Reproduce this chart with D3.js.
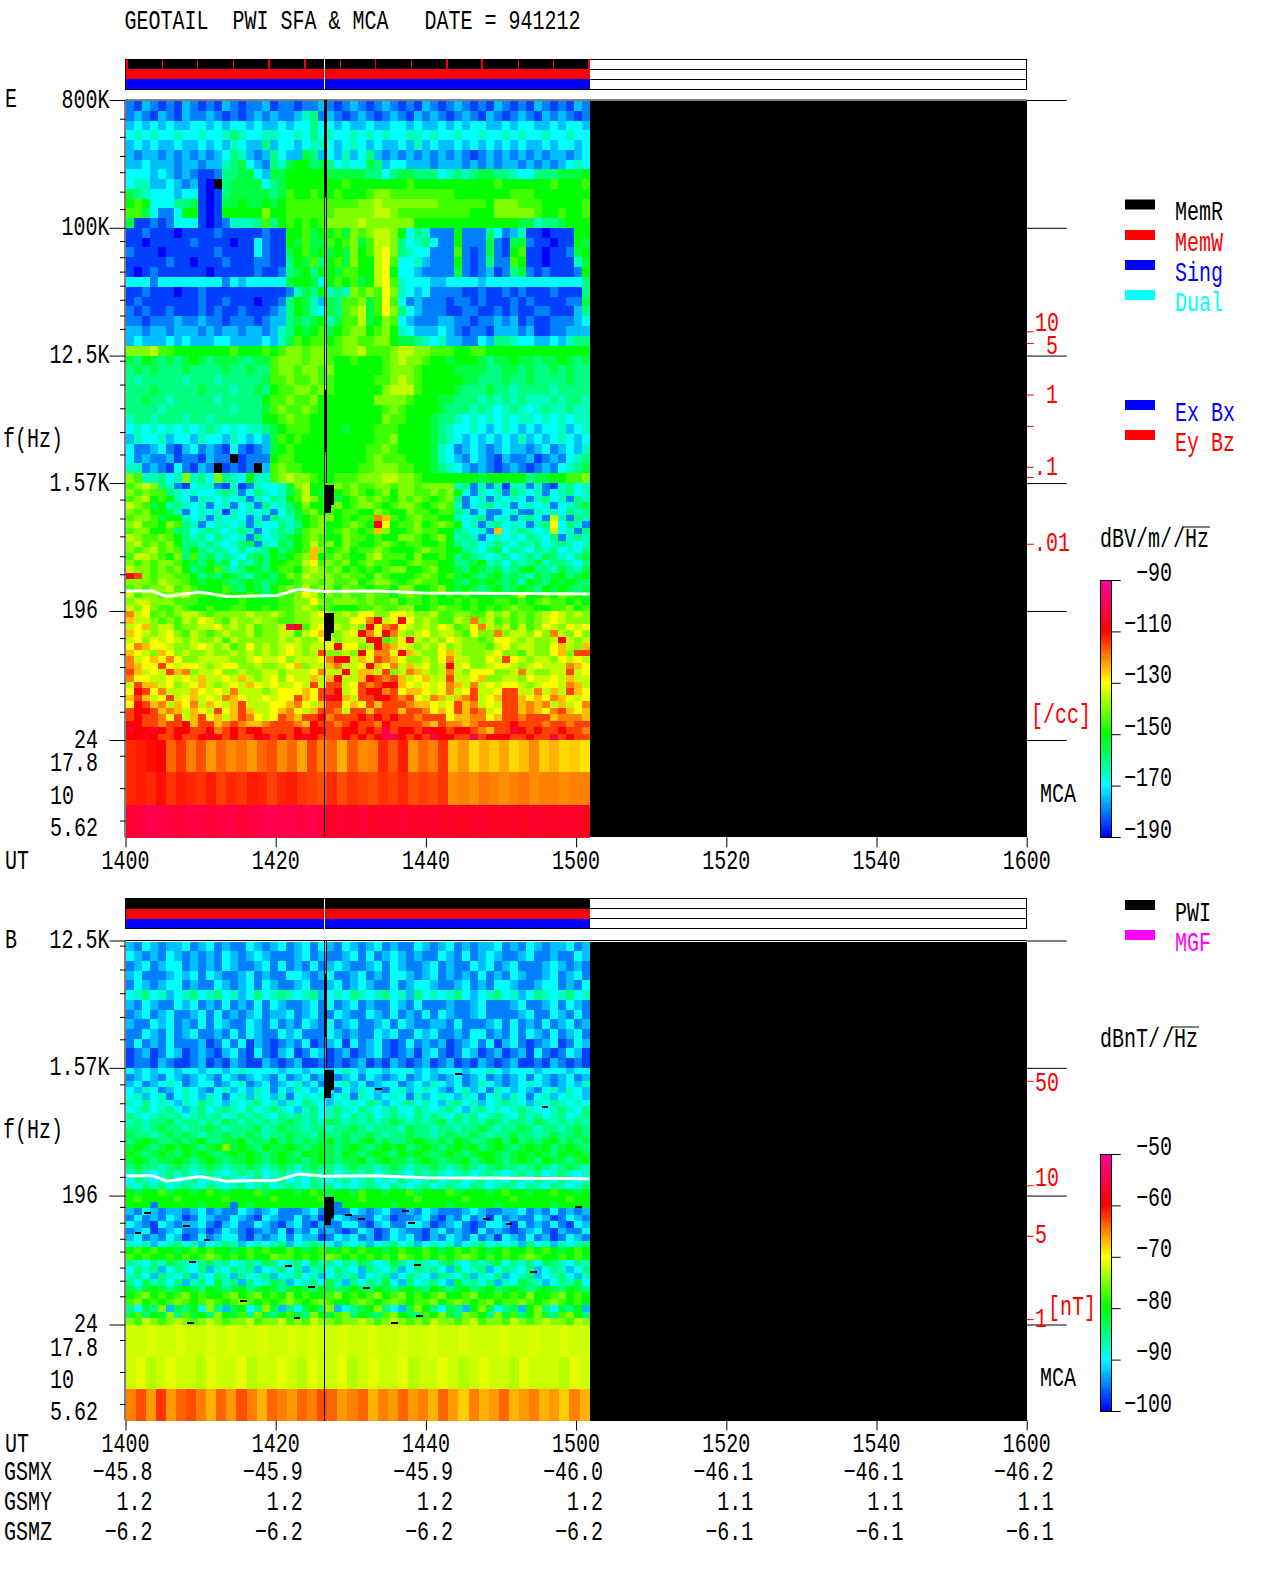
<!DOCTYPE html>
<html>
<head>
<meta charset="utf-8">
<script src="https://cdn.jsdelivr.net/npm/d3@7"></script>
<style>
  body { margin: 0; background: #fff; }
  text { font-family: "Liberation Mono", monospace; font-size: 20px; white-space: pre; }
</style>
</head>
<body>
<script>
// level letters: a..u = bottom..top of the colour bar in equal steps, z = no signal (black)
const levelLetters = "abcdefghijklmnopqrstu";

// electric field spectrogram, top row = 800K, bottom row = 24 Hz, 1400 to 1502 UT
const eRows = [
"cbdcbcbdcb cbdcbccdbc cbccdcbcdc bcdcbcbdcb cdcbcbdcbc bdcbcbdc",
"cdcbdcbdcc dcbcbcdcdc cdfgcdcbcd cbcdcbdcdc bcdcbdcbcd cbdcdcbc",
"dedededdee dedeededde deegeededd eddeededde dedeeddede eddedeed",
"efefeefeef eefgfeeffe efegefeefe fefeeffefe efeefeefef eefeefee",
"dededdedde dedfeddgde edeffedefe deddedfded dedededede ddedeede",
"dcddcdcdcd cdegfdcdge ddhgdedfde gdcdcdcdcd cdcbcdcdcd cdcddcde",
"ddedddcddc ddfghedcgf hiighgefee hgdeedddcd ddcdcdcddc dcdcdefe",
"eeededcdcb bcgghhedhh iiiiihhhhh ggeghhggge fgfghhggfe eggghhhi",
"effddedcdb azghhhhegh iiiiiiijii iiiiijiiii iiiiiijiii iiijiiij",
"hgfeeedeeb abghhhhhgh jiijiijiii jkkjjjjjjj jiiiiiiijj jiiiiiii",
"ijieeegghb abhhihhihi jjjjjjjjjk klkkkkkkkj jjjjjikkkj jjiiiiij",
"jjhecceiib abiiiiikii jjjjjjkkkk kllkjjjjjj jjjiiikkkk kjiijiij",
"hbbcbceeeb abcfffgjgi jijijkkkkl kkkkkkiiii iiiiiiiiih hfgghiii",
"bbcbbbabbb bcbbbbbcbb iijhiijhkj kllkiegfcc cicccgecdf bbabbbii",
"bbabbbbbcb bbbabbecbb ihjhhjijkh jllkgefgec ciccchcbhh cbbabbih",
"cbbbabbbbb bcbbbbecbb hijhihihki jlmkgfeecc cjcbchcbij bbabbchi",
"bbbbbcbbab bbcbbbccbb gihjgijhki ilmjeefdcc cicbcgccji bbabbbfh",
"babcbbbbbb abbbbbcbbc ghigiihjji ilmieedccc chcbcdbcgh cbcbbbci",
"eeeceeeeee eecedeeeee hiiheijijh ilmjfeeedd eeeedeeeee eeeeeeeg",
"bbcbbbabbc bbbbbbbbbb cfhgifgfkj kjmkfedecc ccbbcbbcbc bbbcbbbg",
"bcbbbbbbbc bbcbbbabbc gihfdhgjjk hjmjecdccc bccbcbbbcb cbbbbcch",
"cbcbbcbbbc bcbbcbbbcd gihfehgjkl hjmkgedccc bbccbbcbcb bccbbbdg",
"ccbcccdccd ccbcccbcdd ghghifhjjl hikjedcccd dccbccdcdb cbbcccde",
"ddcddcdddc dcddcddcdf gihijhijkk ijkifeddde dcbccbdddc dbbccddd",
"dedddededd deeddddedf hjijjijkkj jkkihhgfef ddccedggfe eddedfgg",
"kkkljjiiii iiijiiijij kkjkkjjkkl jjjkllkkjj jiijjiiiii iiiiiiii",
"hgihghghih ghhhgghhjk kkjkkjiiji iijklkkjii hiiihghhih hghhihgh",
"ghghggghgg gghgghggjk kjkkjkiiii iijkkkjiii ihhhhgghhg hgghghgg",
"gfgggggfgg gfggggghjj kjjkjjiiii ijjklkjiii iihhggghgg hgggghgg",
"ggghgggggh gggfgghgij jkkjkjiiii iikllljiii ihggghggfg gggfgggg",
"gghggfgggg gfgggggijj kjjkiiiiii ikkkkjiiih hgggfgfgfg fffgfggf",
"ggggfggggg gggfggghjk jjkjiiiiii iijkjiiiih gggfgfefgf efgffgff",
"fggfgggfgg fggggggiij kjjiiiiiii iikjjiiihg gfefefefef fefefeff",
"efefefefef gfefeffghi jjjiiiihii ijjjiiiihg feefedefed edeefdef",
"dfeefdeedf eedfededhj ijiiiiiiii ijjkiiiihg fededededf dedefede",
"eccdecbdec dcbecbcdhi jiiiiiiiii jjkjiiiihf ecdedcdedd cdecdedf",
"ecdccdbccb dcczbcccij jiiiiiiiii jkjjjiiihf edcedcbdcc dbcdcefg",
"ffcdcbecbd czbcbczdjk jjiiiiiiij jkkkjjiihg fedcdcbcdc bcdcefgh",
"kjffgefkfg ekgfeiffjk lkkjiijjjk kkllkkjiii iiiihiiiii ghhiijjk",
"jklkgfcbef fcbfbcfeef hkliijkjkj jkkjkkjkkk kfgcfcfbff cfcbfgef",
"kjkjjgfefe efgfcegfef hjlihjijkj ijkikkjjkj kiecfefcgf efcefgef",
"jklijifecf fefefcfegf ijlkijhijk jkjikjkjij kgcefcfefe cfgefcgf",
"lkjhifgfef cefcefcgef gikiijkijk kjijkkjijk jfcefgefce fefcefgh",
"kjkiihfcef efbfefefce ghjkijijji ikjiikjjij jgfceccefc cfefegfg",
"jkkjhiifef cfefecfcgf fhijkkijij jonjijkjji ifefgcefcf geclfcgf",
"kljjikjgfc effefcfeeg fgijkiijkj iqmijjkijk jiefcfgefe cfgmegfc",
"jkkiijggef gfefgfcefg fhjkkijkji jnkiijkjji igfefcnefg feflefcg",
"lkjjkjigfg egfefcgefg hijkjiikjj ijiikkjijk ifgfcefefe gfegcfgf",
"kljkjkiggf gfefghcfeh gijljkikji ijkjijjiij igfgefgfeg fgefgfef",
"kjkljkjgig fgfegefgig hijnkijkij jkjiiijkjj iigfeghegf egfgefeg",
"jllkjikgjg hfgfeghgih ijknijkjii kljjjikiij ighgfefgef gfhgfegh",
"kjkjkkjihg ighegfhgii jjlmjkjkij kjjiijkjji igghifgegf ghfggfeg",
"lkkjkjkigh ijgfgihgij jiklkjkiji jijkkiijki ihgihghfgh iggfhgfh",
"qpkjkkjjig hgihgfhigi kjlkkkjkjj ikjiiijkji jhihghighg fhghighi",
"kkkjlkkjih iihghihghi ijkkjkjjki jkkjijkjji ihgihihghf ihgihihg",
"jkjkkljkji iijhgihgij kjljkkikjj ijjikkiijk ihihghighi hgihihgh",
"ljkkjkkljj iijiijigij jkmljkjkjj kjjijkjiji jijiiihijl iijikjih",
"kllkkkjjji iiiijiiiij jkkmkjkkkj kjjkijjiji ijijiijjij ijkjjiji",
"lkmkjjkjii jiijjiijij jklkjjiiij jkjjkkiijk jjijijijkj jiijjkij",
"olmjkjkllk jkkkklkklk jkklmkklkm mkkmmlkklj jkkjjlkljk jklmlklk",
"nllkjkjlkm lkjlkklkkj jkklllkkmm oqlmqmklkj jlkokljkjk jklmlkkk",
"lmnklljkkl lmklkljkkl sqjlmklklk qmopmlklkm ljkmolkljl jkmlkmlm",
"nmlklmkjlk jklkkljkkl ljlmnkklmq omqolklmkl lkjmkkokll kmkolkmk",
"lmkmlmlklk kljlkkkkkl klkkmlklll qqjkmrlklk mlkkjkmmlk lkklqlkl",
"monmmlkklm lkljkmklkl mlkllmqmmk lqonmlklkm klkkkjlmkl lkkmnlkn",
"nmlknmklkk lkklklklkl mlklpkklkq moomqnlkkm nlkkklmkkj lkkmnkpp",
"olmnmomkkl lllkklmllm klllmoqqln mponmkklkm ollkkmlpml kllkmlml",
"onmmpmlmml klmmkklkkl mnkllnollm qnmolnlmkl qlmkklmmlk lmlllonm",
"pnlmlpnokl lmkklkkllk lllmollqln nlpklonlkl olkmmmkklo lkkllplm",
"ommllmlmln llmlnlklmk mllnlnqlln qpopnlmnll pllmnkkllk mllmlnll",
"lpnnlmklmn lklmlnmlml lmlplpplmp opqqnmlmlm onlolmlmml klmmlonl",
"mqpmolllnm lmlolllklm mmnmppqlmp qqopmnnmlm olmpllmppl lolnlpnm",
"npnlmplmnl mlonmllmlm mpnmprqnlp pqqpopmlon lnoplmnppn mnmonmlm",
"mqpnolnmol nmlnplllmm nomlnppmnm pnppponnml mpnolmlppn onolnlmo",
"pqqpnonlnm lpmnpnllmn omlnppolpp npppnppomn mpnpolmppn onmopnmn",
"pqppomplnp mnlnpomlmp onppqopppq pqpqppoppp mnnoomnppo pppnooon",
"qqppoppqnp pnoponnopp ponqppopqp poqpppponp oonoppppqp ppoppopp",
"rqqrqpqqpp qopqpqqppp pqpqqppqqp qpspqqprqq pqqponpprq pqppqppo",
"qqrqppqppq rqpqppqrpq pqrqpppqpq pqssqpqpsq qppspqqqpp qppspqpp"
];
const eSectionRows = [13, 13, 13, 20, 20];

// magnetic field spectrogram, top row = 12.5K, bottom row = 24 Hz
const bRows = [
"dcedcddecd ecdccedcde cdecedcedc decdccedcd ecdcddecdc edcddecd",
"edcdcedcdc dcedcdedcc cdecdccdec ecdedcdcce dcecdedccd eccdcced",
"cdecdeecdc dcedccdece cdcecdedcc decedccdec dccedecdec ccdedcdc",
"decccdedec edccdecdcc eedcdeccde cdceedcdec dcdcecdced ccdecdec",
"cedcdeecdc cedcdecedc cdeccdecde dccecdeedc cdecdceedc cdeecdce",
"efgefdefge fgefdegefg fefgdefegf efgefdgefe fgedefgefd egfefgef",
"dcedccedec dcecdceced ccdececdec dccedceccc dccdecccde ccdecedc",
"cdecdeccde cecdcdecdd ecdeccedcc edcecdcece dccdeccccd eccedcec",
"dccedecdce cedccedcec dcedcecdec cdecedccdd cecccdecec dcecdecd",
"ccedcecdec cdcecedcce decccedcdc cedeccedec cdceecdcec edcecdec",
"cecdcecccd bcecebdcbc dcebcdebec decbcecdcd bcdecebdec bcdebced",
"bcdbcedbcd cbdecbecbd ebcedbcdbc decbcdbdec bcedbcdbcd becbcedb",
"bccbdcbbcd bcbdcbbdcb cdbbcbcbcd bcbdcbcdbc dbcbdcbcdb bcbdcbcb",
"ededeedeed eedefeeeed eedeedefed eedeeedede eedeefedee edeeedee",
"cdedcedcde dcedcdedce cdecdecdec edcdecdedc decdecdcde cedcdecd",
"decdefecde ecdefcdecd efdecdefde cdeecdedfe decdfedcde fedcdedf",
"edfecdefed cefdedfece dfedefcedf edcefdefed cefdecfede dcefdfed",
"efdefcefed fecefdfedf cefefdefcf edefecfdef edfecefdfe cefdefed",
"fegefedfeg fedfefgefd fegfedfefe gfdefgefed fgefdefgfe dfegfefe",
"efgefgedfg efgfegefgf edfgefgfeg fefgeegfef gedfgefefg feefgfeg",
"gfefgfgefg fgefgfgfeg fgfgefgegf gefgfegfgf egfgefgfeg fgefgefg",
"fgfgghfggf gfhgfgfgfg hgfgfhgfgf gfghgfgfgh fgfgfhgfgg fhgfgfgf",
"ggfghggfgg hgfggghfgh ggfggfgghg fgggfhggfg gfgghgfggh gfggfghg",
"hggfghghgf gghgghgfgg hggfhgghgg hgfgghggfg hgghgfgghg gfghgghg",
"ghihgghghi gghhighgig hghghighgh ighgghihgh gihgghigig hghighgh",
"hihghihihg hikhihgihh ihghihghih ghihighihg hihighihgh ihighihg",
"ihghihgihi hghihihghi hgihihgihg hihgihihgh ihghiihghi hihgihih",
"hihghhihgh ihghhihghi hhghihghhi ghihhghihg hhighihghi hgihhghi",
"ghggfghgfg hgfgghgfgh gfghggfghg gfghgfgghg fghgfghggf ghgfghgf",
"fgfefgfgef gfefgfgefg fefgfgefgf gefgfegfgf efgefgfefg fgefgfef",
"egfefgefge fegfefgefg efegfefgef gefegfefge fgefgefegf egfegfef",
"fegfgefgfe gfefgefgef gfegfgefef gfegfefgef gfegfefgfe gfegfefg",
"ihiijhiihi jihiiijhii ihijihiihj iihiijhiii jhiiihijii hiijiihi",
"ijiiiijiii iijiiiiiji iiiijiiiij iiiiiijiii iijiiiiiji iiiiijii",
"iiiciiiiih iiicihiiii iiiiicciii iiihiiiiii hiiiiihiii iiihiiii",
"dcedcddcde cdccedcdec ccdecdcced cdeccdcedc ccdedccdde cdcecdcd",
"cecdcedbce dccedcbedc cecdbcedcc cedbccdecb dcecdbecdc cedbcedc",
"edcbedcdde cbdeccedcb decbdcceec bdecceedbc decbceedbe cdcecbed",
"cdebcdeccd bcedcbcdce bdcecdcbce dbcedccbde cdcbecdcbc decbdcce",
"decdcedbce cdeecbdcde ceddbcedec dbcedecbdc edcecdbedc ecdbcedc",
"fefdefgefd efgfdefefg defgfedfef defgefdefe fdefgefefd gefdfefg",
"ijijiihiji jiihijijii jihijiijij iihijiijih ijijihijii jijihiji",
"jijiijijij kjijijiikj jijijkjiji jijikjijij ijkjijijij kjiijiji",
"gfegfhgfeg hfgefgfhge fgehfgegfh gefhgegfeg hfegfghegf gehgfegf",
"egfgdegfeg dfegfgdefg egdfgegfed gfegdegfge dgefgdegfe gdegfdeg",
"fgedgfegdf egfdgefgde fgefdegfgd efgdegfedg fegdfegdef gdefgedf",
"gehfgegdfg ehfgdgefhg defgehfdge gfhedgefge dhfgegdfeh gfdegfhe",
"hghihghihg ihghighihg hihgihghih gihghihgih ghighighih ghihgihg",
"ijkijijkij iijkijkiji kijiijkiji jkijkijijk iijkiijiji kiijkiji",
"jkijijkjij kjijkjijij kjijkjiijk jijkjijjki jkjijkijjk jijkjiji",
"gehgkdhgie kgdhiegkhd gehigkdegh ikgedhkige hgdikheghd ikgehgid",
"hjgihkgjhi gkihjgkhgi jhgkihjkgi hgjkihgjik hgkjigkhjg ikhgjkig",
"kjlkjklkjk lkjkkljkkl jkjlkkjkkl kjklkjkjlk kjkljkkjlk jklkkjlk"
];
const bSectionRows = [13, 20, 20];

// MCA channels, one value per column (dB)
const eMca17 = [-113,-112,-111,-110,-118,-114,-120,-116,-122,-118,-121,-119,-122,-118,-116,-121,-118,-123,-115,-120,-118,-124,-117,-121,-120,-113,-117,-112,-122,-118,-120,-114,-125,-122,-127,-124,-126,-123,-127,-125,-121,-126,-124,-127,-126,-128];
const eMca10 = [-113,-112,-113,-111,-114,-112,-113,-114,-112,-115,-113,-114,-112,-113,-115,-113,-112,-114,-115,-116,-113,-116,-114,-115,-116,-114,-115,-113,-116,-115,-116,-114,-121,-120,-121,-119,-120,-121,-120,-119,-121,-120,-120,-121,-120,-120];
const eMca5 = [-104,-102,-100,-101,-102,-103,-101,-102,-103,-102,-101,-103,-102,-101,-100,-101,-100,-102,-100,-103,-105,-104,-105,-103,-105,-104,-105,-104,-105,-105,-104,-105,-105,-106,-105,-105,-106,-105,-105,-106,-105,-105,-106,-105,-105,-106];
const bMca17 = [-72,-72,-71.5,-72,-72,-71.5,-72,-72,-71.5,-72,-71.5,-72,-72,-71.5,-72,-72,-71.5,-72,-71.5,-72,-72,-71.5,-72,-72,-71.5,-72,-72,-71.5,-72,-72,-71.5,-72,-72,-71.5,-72,-72,-72,-71.5,-72,-72,-71.5,-72,-72,-71.5,-72,-72];
const bMca10 = [-72,-71,-73,-72,-71,-72,-72,-73,-71,-72,-72,-71,-73,-72,-72,-71,-72,-73,-71,-72,-72,-71,-73,-72,-71,-72,-72,-71,-73,-72,-72,-71,-72,-73,-72,-71,-72,-72,-73,-71,-72,-72,-72,-73,-71,-72];
const bMca5 = [-65,-63,-66,-62,-66,-64,-63,-65,-67,-64,-66,-63,-65,-67,-64,-65,-66,-64,-65,-63,-64,-66,-65,-64,-67,-65,-66,-64,-66,-65,-67,-64,-66,-68,-65,-67,-66,-64,-67,-66,-65,-67,-66,-68,-65,-67];

// white line, minutes after 1400 and Hz
const lineMinutes = [0, 3.6, 5.5, 9.9, 13.4, 20.2, 23, 26.5, 33.3, 39.8, 61.8];
const lineHz = [271, 271, 248, 267, 248, 252, 279, 269, 271, 262, 258];

// strip marks and data gaps
const memReadMarks = [0.1, 4.8, 9.5, 14.3, 19, 23.8, 28.5, 33.2, 38, 42.7, 47.4, 52.2, 56.9, 61.6];
const dropMinute = 26.45;
const dataEndMinute = 61.8;
const gapStart = [26.45, 26.45, 26.45, 26.45];
const gapEnd = [27.7, 27.4, 27.7, 27.4];
const gapHighHz = [1520, 1098, 190, 137];
const gapLowHz = [1098, 965, 137, 121];
const slitHighHz = [7195];
const slitLowHz = [2586];

// short black dropouts in B, minutes and Hz
const dropoutMinutes = [33.2, 36.8, 31, 29.2, 37.6, 2.5, 7.7, 1.2, 10.4, 8.5, 24.3, 31.6, 53.9, 21.3, 38.4, 47.6, 50.6, 59.9, 15.3, 8.2, 35.4, 38.7, 22.4, 43.9, 55.4];
const dropoutHz = [1131, 154, 136, 146, 127, 149, 121, 109, 96, 67, 45, 44, 57, 63, 64, 135, 125, 165, 36, 25, 25, 28, 27, 1440, 850];

// axes
const timeTickMinutes = [0, 20, 40, 60, 80, 100, 120];
const timeTickLabels = ["1400", "1420", "1440", "1500", "1520", "1540", "1600"];
const gsmx = ["−45.8", "−45.9", "−45.9", "−46.0", "−46.1", "−46.1", "−46.2"];
const gsmy = ["1.2", "1.2", "1.2", "1.2", "1.1", "1.1", "1.1"];
const gsmz = ["−6.2", "−6.2", "−6.2", "−6.2", "−6.1", "−6.1", "−6.1"];
const eMajorHz = [800000, 100000, 12500, 1570, 196, 24];
const eMajorLabels = ["800K", "100K", "12.5K", "1.57K", "196", "24"];
const bMajorHz = [12500, 1570, 196, 24];
const bMajorLabels = ["12.5K", "1.57K", "196", "24"];
const minorHz = [590000, 439000, 322000, 247000, 180000, 135500, 80600, 62000, 49000, 39000, 31000, 24000, 19300, 11500, 7800, 5300, 3600, 2500, 1200, 882, 660, 477, 356, 266, 163, 126, 97, 78.7, 60.7, 49, 38];
const mcaLabels = ["17.8", "10", "5.62"];

// density / field strength marks on the right, placed by their Hz position
const eDensityLabels = ["10", "5", "1", "", ".1", "", ".01"];
const eDensityHz = [18400, 15200, 6580, 3950, 2030, 1720, 580];
const bFieldLabels = ["50", "10", "5", "1"];
const bFieldHz = [1260, 230, 101, 26];

const eColorTicks = [-90, -110, -130, -150, -170, -190];
const bColorTicks = [-50, -60, -70, -80, -90, -100];
const colorStops = ["#0000ff", "#00ffff", "#00ff00", "#ffff00", "#ff0000", "#ff00a0"];

const eLegendNames = ["MemR", "MemW", "Sing", "Dual", "Ex Bx", "Ey Bz"];
const eLegendColors = ["#000", "#f00", "#00f", "#0ff", "#00f", "#f00"];
const bLegendNames = ["PWI", "MGF"];
const bLegendColors = ["#000", "#f0f"];

const width = 1280, height = 1593;
const svg = d3.select("body").append("svg")
    .attr("width", width)
    .attr("height", height)
    .style("display", "block");

const x = d3.scaleLinear().domain([0, 120]).range([125.5, 1026.7]);
const charW = 12;

// the original font is a tall fixed pitch face, so stretch the mono font upward
function monoText(str, px, py, anchor, color) {
    const n = str.length;
    const x0 = anchor === "end" ? px - n * charW : anchor === "middle" ? px - n * charW / 2 : px;
    return svg.append("text")
        .attr("transform", `translate(${x0},${py + 9}) scale(1,1.35)`)
        .attr("fill", color || "#000")
        .text(str);
}

function drawStrip(top, marks) {
    const rowH = 10;
    const g = svg.append("g").attr("shape-rendering", "crispEdges");
    ["#000", "#f00", "#00f"].forEach((c, i) => {
        g.append("rect").attr("x", x(0)).attr("y", top + i * rowH)
            .attr("width", x(dataEndMinute) - x(0)).attr("height", rowH).attr("fill", c);
    });
    g.append("rect").attr("x", x(0)).attr("y", top)
        .attr("width", x(120) - x(0)).attr("height", 3 * rowH)
        .attr("fill", "none").attr("stroke", "#000");
    [1, 2].forEach(i => {
        g.append("line").attr("x1", x(dataEndMinute)).attr("x2", x(120))
            .attr("y1", top + i * rowH).attr("y2", top + i * rowH).attr("stroke", "#000");
    });
    g.selectAll(".mark").data(marks).enter().append("rect")
        .attr("x", d => x(d)).attr("y", top).attr("width", 1.5).attr("height", rowH).attr("fill", "#f00");
    g.append("line").attr("x1", x(dropMinute)).attr("x2", x(dropMinute))
        .attr("y1", top).attr("y2", top + 3 * rowH).attr("stroke", "#fff");
}

function drawPanel(opt) {
    const y = d3.scaleLog().domain([24, opt.topHz]).range([opt.y24, opt.yTop]);
    const c = d3.scaleLinear().domain(opt.domain).range(colorStops).clamp(true);
    const g = svg.append("g").attr("shape-rendering", "crispEdges");

    // black background out to 1600
    g.append("rect").attr("x", x(0)).attr("y", opt.yTop + 1)
        .attr("width", x(120) - x(0)).attr("height", opt.yBottom - opt.yTop - 1).attr("fill", "#000");

    const rows = opt.rows.map(r => r.replace(/ /g, "").split(""));
    const colBand = d3.scaleBand().domain(d3.range(58)).range([x(0), x(dataEndMinute)]);
    let rowIndex = 0;
    opt.sectionRows.forEach((count, s) => {
        const rowBand = d3.scaleBand().domain(d3.range(count))
            .range([y(opt.majorHz[s]) + (s === 0 ? 1 : 0), y(opt.majorHz[s + 1])]);
        d3.range(count).forEach(k => {
            g.selectAll(null).data(rows[rowIndex]).enter().append("rect")
                .attr("x", (d, col) => colBand(col))
                .attr("y", rowBand(k))
                .attr("width", colBand.bandwidth() + 0.5)
                .attr("height", rowBand.bandwidth() + 0.5)
                .attr("fill", d => d === "z" ? "#000" : c(opt.levels[levelLetters.indexOf(d)]));
            rowIndex++;
        });
    });

    // MCA bands
    const mcaCols = d3.scaleBand().domain(d3.range(46)).range([x(0), x(dataEndMinute)]);
    const mcaBand = d3.scaleBand().domain([0, 1, 2]).range([opt.y24, opt.yBottom]);
    opt.mca.forEach((vals, b) => {
        g.selectAll(null).data(vals).enter().append("rect")
            .attr("x", (d, col) => mcaCols(col))
            .attr("y", mcaBand(b))
            .attr("width", mcaCols.bandwidth() + 0.5)
            .attr("height", mcaBand.bandwidth() + 0.5)
            .attr("fill", d => c(d));
    });

    // dropouts
    opt.dropouts.forEach((d, i) => {
        g.append("rect").attr("x", x(d)).attr("y", y(dropoutHz[i]))
            .attr("width", x(d + 0.9) - x(d)).attr("height", 2).attr("fill", "#000");
    });

    // gaps
    gapStart.forEach((t, i) => {
        g.append("rect").attr("x", x(t)).attr("y", y(gapHighHz[i]))
            .attr("width", x(gapEnd[i]) - x(t)).attr("height", y(gapLowHz[i]) - y(gapHighHz[i])).attr("fill", "#000");
    });
    slitHighHz.forEach((f, i) => {
        g.append("rect").attr("x", x(dropMinute)).attr("y", y(f))
            .attr("width", 2).attr("height", y(slitLowHz[i]) - y(f)).attr("fill", "#000");
    });
    if (opt.upperSlitHz) {
        g.append("rect").attr("x", x(dropMinute)).attr("y", y(opt.upperSlitHz[0]))
            .attr("width", 2).attr("height", y(opt.upperSlitHz[1]) - y(opt.upperSlitHz[0])).attr("fill", "#000");
    }
    g.append("line").attr("x1", x(dropMinute) + 2).attr("x2", x(dropMinute) + 2)
        .attr("y1", opt.yTop).attr("y2", y(1570)).attr("stroke", "#000");
    g.append("line").attr("x1", x(dropMinute)).attr("x2", x(dropMinute))
        .attr("y1", opt.yTop).attr("y2", opt.yBottom).attr("stroke", "#000");

    // white line
    svg.append("path")
        .datum(lineMinutes)
        .attr("fill", "none").attr("stroke", "#fff").attr("stroke-width", 3)
        .attr("d", d3.line().x(d => x(d)).y((d, i) => y(lineHz[i])));

    // left axis
    const major = opt.majorHz;
    const minor = minorHz.filter(f => f < opt.topHz);
    const left = svg.append("g").attr("transform", `translate(${x(0)},0)`);
    left.call(d3.axisLeft(y).tickValues(minor).tickSize(5.5).tickFormat(""));
    left.call(g => g.select(".domain").remove());
    svg.append("g").attr("transform", `translate(${x(0)},0)`)
        .call(d3.axisLeft(y).tickValues(major).tickSize(16).tickFormat(""))
        .call(g => g.select(".domain").remove());
    const rightAxis = svg.append("g").attr("transform", `translate(${x(120)},0)`)
        .call(d3.axisRight(y).tickValues(major).tickSize(40).tickFormat(""));
    rightAxis.select(".domain").remove();
    svg.append("line").attr("x1", x(0) - 0.5).attr("x2", x(0) - 0.5)
        .attr("y1", opt.yTop).attr("y2", opt.yBottom).attr("stroke", "#000");
    svg.append("line").attr("x1", x(0)).attr("x2", x(120))
        .attr("y1", opt.yTop).attr("y2", opt.yTop).attr("stroke", "#000");

    major.forEach((f, i) => {
        const wide = opt.majorLabels[i].endsWith("K");
        monoText(opt.majorLabels[i], wide ? 109.4 : 98, y(f) - 1.5, "end");
    });

    // MCA ticks and labels
    const mcaTick = i => mcaBand(i) + mcaBand.bandwidth() / 2;
    mcaLabels.forEach((s, i) => {
        svg.append("line").attr("x1", x(0) - 5.5).attr("x2", x(0))
            .attr("y1", mcaTick(i)).attr("y2", mcaTick(i)).attr("stroke", "#000");
        if (s === "10") monoText(s, 50, mcaTick(i) + 6, "start");
        else monoText(s, 98, mcaTick(i) + 6, "end");
    });
    monoText("MCA", 1040, opt.yBottom - 44, "start");

    // bottom axis
    svg.append("g").attr("transform", `translate(0,${opt.yBottom})`)
        .call(d3.axisBottom(x).tickValues(timeTickMinutes).tickSize(10).tickFormat(""))
        .call(g => g.select(".domain").remove());
    monoText("UT", 5, opt.yBottom + 22.5, "start");
    timeTickLabels.forEach((s, i) => monoText(s, x(timeTickMinutes[i]), opt.yBottom + 22.5, "middle"));

    monoText("f(Hz)", 3, opt.fLabelY, "start");
    monoText(opt.name, 5, opt.yTop - 2, "start");

    // red marks on the right
    opt.redHz.forEach((f, i) => {
        svg.append("line").attr("x1", x(120)).attr("x2", x(120) + 7)
            .attr("y1", y(f)).attr("y2", y(f)).attr("stroke", "#f00");
        const s = opt.redLabels[i];
        if (s) monoText(s, opt.redX(s), y(f) + opt.redDy[i], opt.redAnchor(s), "#f00");
    });
    monoText(opt.unit, opt.unitX, opt.unitY, "start", "#f00");

    // colour bar
    const bar = d3.scaleLinear().domain(d3.extent(opt.ticks)).range([opt.barBottom, opt.barTop]);
    const barRows = d3.range(opt.domain[0], opt.domain[5], (opt.domain[5] - opt.domain[0]) / 120);
    const barG = svg.append("g").attr("shape-rendering", "crispEdges");
    barG.selectAll("rect").data(barRows).enter().append("rect")
        .attr("x", 1100.7).attr("width", 11)
        .attr("y", d => bar(d) - (opt.barBottom - opt.barTop) / 120 - 0.5)
        .attr("height", (opt.barBottom - opt.barTop) / 120 + 1)
        .attr("fill", d => c(d));
    barG.append("rect").attr("x", 1100.7).attr("y", opt.barTop).attr("width", 11)
        .attr("height", opt.barBottom - opt.barTop).attr("fill", "none").attr("stroke", "#000");
    svg.append("g").attr("transform", "translate(1111.7,0)")
        .call(d3.axisRight(bar).tickValues(opt.ticks).tickSize(9).tickFormat(""))
        .call(g => g.select(".domain").remove());
    opt.ticks.forEach(t => {
        monoText(String(t).replace("-", "−"), 1172, bar(t) - 8.5, "end");
    });

    // unit over the bar
    monoText(opt.barUnit, 1100, opt.barUnitY, "start");
    monoText("/Hz", opt.rootX, opt.barUnitY, "start");
    svg.append("line").attr("x1", opt.rootX + 9).attr("x2", opt.rootX + 37)
        .attr("y1", opt.barUnitY - 11).attr("y2", opt.barUnitY - 11).attr("stroke", "#000");

    // legend
    opt.legendNames.forEach((s, i) => {
        svg.append("rect").attr("x", 1125).attr("width", 30)
            .attr("y", opt.legendY[i]).attr("height", 10).attr("fill", opt.legendColors[i]);
        monoText(s, 1175, opt.legendY[i] + 11.5, "start", opt.legendColors[i]);
    });
}

monoText("GEOTAIL  PWI SFA & MCA   DATE = 941212", 124.5, 19.5, "start");
drawStrip(59.3, memReadMarks);
drawPanel({
    name: "E", rows: eRows, sectionRows: eSectionRows, topHz: 800000, yTop: 100, y24: 740, yBottom: 837.3,
    levels: d3.range(-190, -89, 5), domain: [-190, -170, -150, -130, -110, -90],
    mca: [eMca17, eMca10, eMca5], dropouts: [], upperSlitHz: [800000, 165000],
    majorHz: eMajorHz, majorLabels: eMajorLabels, fLabelY: 438,
    redHz: eDensityHz, redLabels: eDensityLabels, redDy: [-10, 1, -1.5, 0, -1, 0, -2],
    redX: s => s === ".01" ? 1070 : s === "10" ? 1035 : 1058,
    redAnchor: s => s === "10" ? "start" : "end",
    unit: "[/cc]", unitX: 1031, unitY: 714,
    ticks: eColorTicks, barTop: 580, barBottom: 837, barUnit: "dBV/m/", barUnitY: 538, rootX: 1173,
    legendNames: eLegendNames, legendColors: eLegendColors, legendY: [199.5, 230, 260, 290, 400, 430]
});
drawStrip(898.8, []);
drawPanel({
    name: "B", rows: bRows, sectionRows: bSectionRows, topHz: 12500, yTop: 940.5, y24: 1324.5, yBottom: 1420.5,
    levels: d3.range(-100, -49.9, 2.5), domain: [-100, -90, -80, -70, -60, -50],
    mca: [bMca17, bMca10, bMca5], dropouts: dropoutMinutes, upperSlitHz: null,
    majorHz: bMajorHz, majorLabels: bMajorLabels, fLabelY: 1129,
    redHz: bFieldHz, redLabels: bFieldLabels, redDy: [1, -9, -2, -2],
    redX: () => 1035, redAnchor: () => "start",
    unit: "[nT]", unitX: 1048, unitY: 1306,
    ticks: bColorTicks, barTop: 1154, barBottom: 1411, barUnit: "dBnT/", barUnitY: 1038, rootX: 1162,
    legendNames: bLegendNames, legendColors: bLegendColors, legendY: [900, 930]
});

[["GSMX", gsmx, 1471], ["GSMY", gsmy, 1501], ["GSMZ", gsmz, 1531]].forEach(row => {
    monoText(row[0], 4, row[2], "start");
    row[1].forEach((s, i) => monoText(s, x(timeTickMinutes[i]) + 27, row[2], "end"));
});
</script>
</body>
</html>
